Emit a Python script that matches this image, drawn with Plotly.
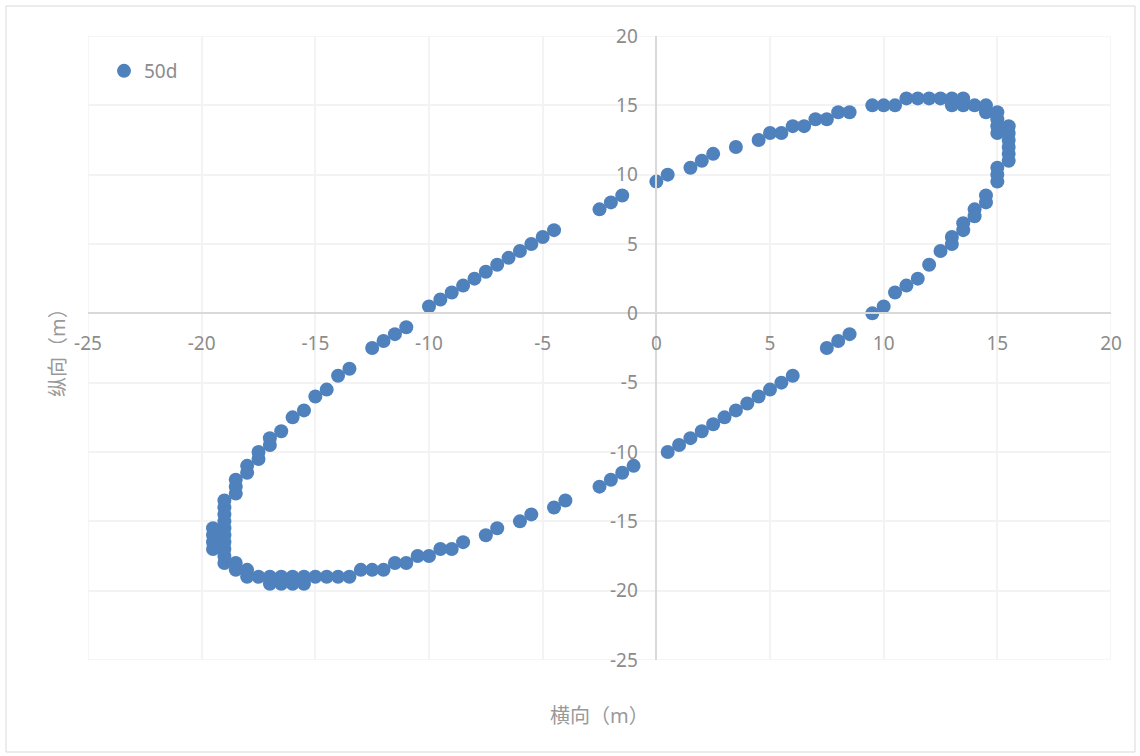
import plotly.graph_objects as go

# Measured positions for the 50-day survey (metres), traced around the loop
lateral = [
    0, 0.5, 1.5, 2, 2.5, 3.5, 4.5, 5, 5.5, 6, 6.5, 7, 7.5, 8, 8.5, 9.5, 10, 10.5,
    11, 11.5, 12, 12.5, 13, 13, 13.5, 13.5, 14, 14.5, 14.5, 15, 15, 15, 15,
    15.5, 15.5, 15.5, 15.5, 15.5, 15.5, 15, 15, 15, 14.5, 14.5, 14, 14, 13.5, 13.5,
    13, 13, 12.5, 12, 11.5, 11, 10.5, 10, 9.5, 8.5, 8, 7.5, 6, 5.5, 5, 4.5, 4,
    3.5, 3, 2.5, 2, 1.5, 1, 0.5, -1, -1.5, -2, -2.5, -4, -4.5, -5.5, -6, -7, -7.5,
    -8.5, -9, -9.5, -10, -10.5, -11, -11.5, -12, -12.5, -13, -13.5, -14, -14.5,
    -15, -15.5, -15.5, -16, -16, -16.5, -16.5, -17, -17, -17.5, -18, -18, -18.5,
    -18.5, -19, -19, -19, -19, -19, -19, -19, -19, -19, -19, -19.5, -19.5, -19.5,
    -19.5, -18.5, -18.5, -18.5, -18, -18, -17.5, -17.5, -17, -17, -16.5, -16,
    -15.5, -15, -14.5, -14, -13.5, -12.5, -12, -11.5, -11, -10, -9.5, -9, -8.5,
    -8, -7.5, -7, -6.5, -6, -5.5, -5, -4.5, -2.5, -2, -1.5,
]
longitudinal = [
    9.5, 10, 10.5, 11, 11.5, 12, 12.5, 13, 13, 13.5, 13.5, 14, 14, 14.5, 14.5, 15,
    15, 15, 15.5, 15.5, 15.5, 15.5, 15.5, 15, 15.5, 15, 15, 15, 14.5, 14.5, 14,
    13.5, 13, 13.5, 13, 12.5, 12, 11.5, 11, 10.5, 10, 9.5, 8.5, 8, 7.5, 7, 6.5, 6,
    5.5, 5, 4.5, 3.5, 2.5, 2, 1.5, 0.5, 0, -1.5, -2, -2.5, -4.5, -5, -5.5, -6,
    -6.5, -7, -7.5, -8, -8.5, -9, -9.5, -10, -11, -11.5, -12, -12.5, -13.5, -14,
    -14.5, -15, -15.5, -16, -16.5, -17, -17, -17.5, -17.5, -18, -18, -18.5, -18.5,
    -18.5, -19, -19, -19, -19, -19, -19.5, -19, -19.5, -19, -19.5, -19, -19.5,
    -19, -19, -18.5, -18.5, -18, -18, -17.5, -17, -16.5, -16, -15.5, -15, -14.5,
    -14, -13.5, -17, -16.5, -16, -15.5, -13, -12.5, -12, -11.5, -11, -10.5, -10,
    -9.5, -9, -8.5, -7.5, -7, -6, -5.5, -4.5, -4, -2.5, -2, -1.5, -1, 0.5, 1,
    1.5, 2, 2.5, 3, 3.5, 4, 4.5, 5, 5.5, 6, 7.5, 8, 8.5,
]
series_name = "50d"
axis_ticks = [-25, -20, -15, -10, -5, 0, 5, 10, 15, 20]
axis_tick_text = ["-25", "-20", "-15", "-10", "-5", "0", "5", "10", "15", "20"]
x_title = "横向（m）"
y_title = "纵向（m）"

W, H = 1140, 756
L, R, T, B = 88, 29, 36, 96
x_range = [-25, 20]
y_range = [-25, 20]

def frac(v, rng):
    return (v - rng[0]) / (rng[1] - rng[0])

def px_to_paper_x(px):
    return (px - L) / (W - L - R)

def px_to_paper_y(py):
    return (H - B - py) / (H - T - B)

font_family = "Noto Sans, Noto Sans CJK SC, sans-serif"
tick_color = "#8c8c8c"
grid_color = "#f3f3f3"
axis_color = "#d9d9d9"
marker_color = "#4F81BD"

fig = go.Figure()
fig.add_trace(go.Scatter(
    x=lateral, y=longitudinal, mode="markers", name=series_name,
    marker=dict(color=marker_color, size=14, line=dict(width=0)),
    showlegend=True,
))

axis_common = dict(
    tickvals=axis_ticks, ticktext=axis_tick_text, showgrid=True,
    gridcolor=grid_color, gridwidth=1.5, zeroline=False, showline=True,
    linecolor=axis_color, linewidth=1.5, anchor="free", ticks="",
    tickfont=dict(size=19, color=tick_color), fixedrange=True,
)

fig.update_layout(
    width=W, height=H,
    margin=dict(l=L, r=R, t=T, b=B),
    paper_bgcolor="white", plot_bgcolor="white",
    font=dict(family=font_family, color=tick_color, size=19),
    showlegend=True,
    legend=dict(
        x=px_to_paper_x(104), y=px_to_paper_y(52), xanchor="left", yanchor="top",
        bgcolor="rgba(0,0,0,0)", font=dict(size=19, color=tick_color),
        itemwidth=30,
    ),
    xaxis=dict(range=x_range, position=frac(0, y_range), ticklabelstandoff=13,
               **axis_common),
    yaxis=dict(range=y_range, position=frac(0, x_range), ticklabelstandoff=14,
               **axis_common),
    annotations=[
        dict(text=x_title, xref="paper", yref="paper", x=0.5, y=px_to_paper_y(716),
             xanchor="center", yanchor="middle", showarrow=False,
             font=dict(size=20, color="#999999")),
        dict(text=y_title, xref="paper", yref="paper", x=px_to_paper_x(57), y=0.5,
             xanchor="center", yanchor="middle", showarrow=False, textangle=-90,
             font=dict(size=20, color="#999999")),
    ],
    shapes=[
        # chart frame
        dict(type="rect", xref="paper", yref="paper",
             x0=px_to_paper_x(6), x1=px_to_paper_x(1135),
             y0=px_to_paper_y(752), y1=px_to_paper_y(6),
             line=dict(color=axis_color, width=1), fillcolor="rgba(0,0,0,0)",
             layer="below"),
        # outer gridlines of the plot area
        dict(type="rect", xref="x", yref="y",
             x0=x_range[0], x1=x_range[1], y0=y_range[0], y1=y_range[1],
             line=dict(color=grid_color, width=1.5), fillcolor="rgba(0,0,0,0)",
             layer="below"),
    ],
)

fig.write_html("out.html")
